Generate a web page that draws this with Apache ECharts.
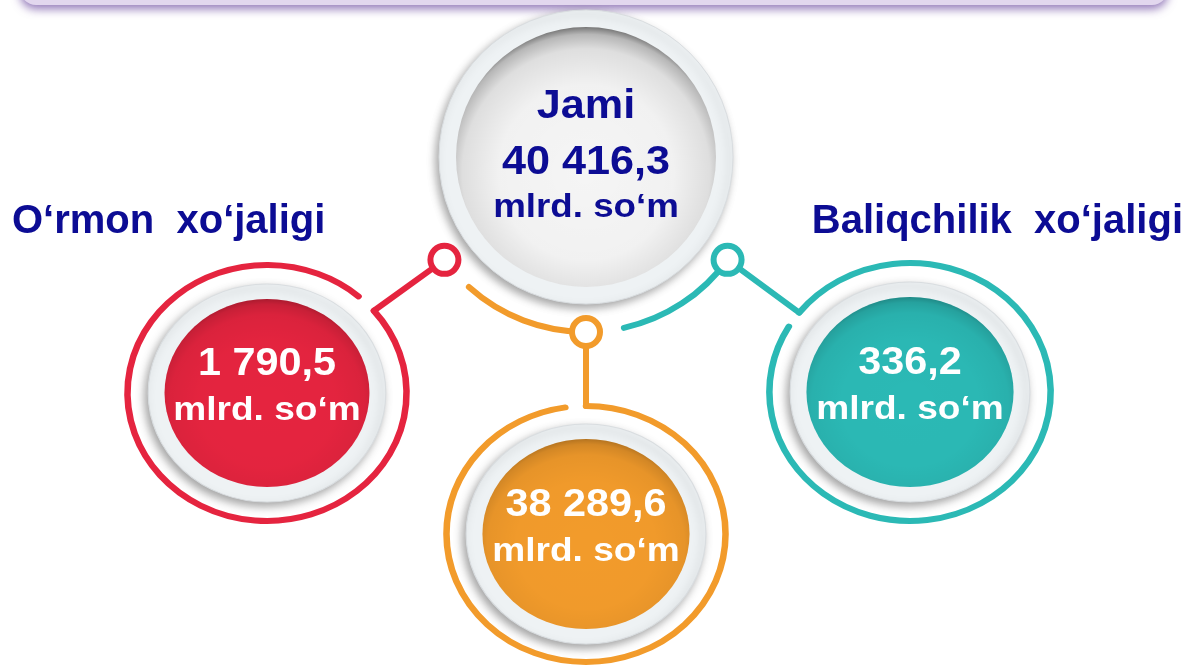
<!DOCTYPE html>
<html>
<head>
<meta charset="utf-8">
<title>Jami 40 416,3 mlrd. so‘m</title>
<script src="https://cdn.jsdelivr.net/npm/echarts@6/dist/echarts.min.js"></script>
<style>
  html, body { margin: 0; padding: 0; background: #fff; }
  #chart { width: 1189px; height: 666px; }
</style>
</head>
<body>
<div id="chart"></div>
<script>
// qiymatlar
const categories = ['Jami', 'O‘rmon  xo‘jaligi', '', 'Baliqchilik  xo‘jaligi'];
const values = [40416.3, 1790.5, 38289.6, 336.2];
const unit = 'mlrd. so‘m';

// joylashuv (yashirin o'qlar 0..1189 / 0..666 bo'yicha)
const layout = [
  { x: 586, y: 157, r: 130, bezel: 17 },
  { x: 267, y: 393, color: '#e5243f', ring: 128, r: 94, link: 144, joint: -40, gapEnd: -49,
    label: { x: 12, y: 222, align: 'left' } },
  { x: 586, y: 534, color: '#f29b2b', ring: 128, r: 95, link: 90, joint: -90, gapEnd: -98.5, arc: [90, 132] },
  { x: 910, y: 392, color: '#2bb9b5', ring: 129, r: 95, link: 36, joint: 218, gapEnd: 210.5, arc: [36, 77.5],
    label: { x: 1183, y: 222, align: 'right' } }
];

const navy = '#0c0c94';
const deg = Math.PI / 180;
const SX = 1.09; // kichik doiralar biroz ellips
const LINK_R = 175;
const LW = 6;

const font = (size) => 'bold ' + size + 'px "Liberation Sans", Arial, sans-serif';

function fmt(v) {
  const parts = v.toFixed(1).split('.');
  return parts[0].replace(/\B(?=(\d{3})+(?!\d))/g, ' ') + ',' + parts[1];
}

// ichki soya (tepada to'qroq)
function shade(k) {
  return new echarts.graphic.RadialGradient(0.5, 0.56, 0.56, [
    { offset: 0, color: 'rgba(0,0,0,0)' },
    { offset: 0.6, color: 'rgba(0,0,0,' + (0.01 * k) + ')' },
    { offset: 0.85, color: 'rgba(0,0,0,' + (0.06 * k) + ')' },
    { offset: 0.95, color: 'rgba(0,0,0,' + (0.16 * k) + ')' },
    { offset: 1, color: 'rgba(0,0,0,' + (0.32 * k) + ')' }
  ]);
}

function txt(text, y, size, fill) {
  return {
    type: 'text', x: 0, y: y,
    style: { text: text, font: font(size), fill: fill, align: 'center', verticalAlign: 'middle' }
  };
}

const bezelStyle = {
  fill: '#eef2f4', stroke: '#d9dde0', lineWidth: 1,
  shadowBlur: 8, shadowOffsetX: -3, shadowOffsetY: 4, shadowColor: 'rgba(0,0,0,0.35)'
};

function renderItem(params, api) {
  const i = api.value(3);
  const L = layout[i];
  const c = api.coord([api.value(0), api.value(1)]);
  const val = fmt(api.value(2));

  if (i === 0) {
    return {
      type: 'group', x: c[0], y: c[1],
      children: [
        { type: 'circle', shape: { cx: 0, cy: 0, r: L.r + L.bezel }, style: bezelStyle },
        { type: 'circle', shape: { cx: 0, cy: 0, r: L.r }, style: { fill: '#f5f5f5' } },
        { type: 'circle', shape: { cx: 0, cy: 0, r: L.r }, style: { fill: shade(1.6) } },
        {
          type: 'group', scaleX: 1.08,
          children: [
            txt(categories[i], -50, 40, navy),
            txt(val, 6, 40, navy),
            txt(unit, 51, 34, navy)
          ]
        }
      ]
    };
  }

  const hub = api.coord([layout[0].x, layout[0].y]);
  const lx = hub[0] + LINK_R * Math.cos(L.link * deg);
  const ly = hub[1] + LINK_R * Math.sin(L.link * deg);
  const jx = c[0] + SX * L.ring * Math.cos(L.joint * deg);
  const jy = c[1] + L.ring * Math.sin(L.joint * deg);
  const line = { stroke: L.color, lineWidth: LW, fill: 'none', lineCap: 'round' };

  const children = [
    { type: 'line', shape: { x1: jx, y1: jy, x2: lx, y2: ly }, style: line },
    {
      type: 'group', x: c[0], y: c[1], scaleX: SX,
      children: [
        {
          type: 'arc',
          shape: { cx: 0, cy: 0, r: L.ring, startAngle: L.joint * deg, endAngle: (L.gapEnd + 360) * deg, clockwise: true },
          style: line
        },
        { type: 'circle', shape: { cx: 0, cy: 0, r: L.r + 15 }, style: bezelStyle },
        { type: 'circle', shape: { cx: 0, cy: 0, r: L.r }, style: { fill: L.color } },
        { type: 'circle', shape: { cx: 0, cy: 0, r: L.r }, style: { fill: shade(0.8) } },
        txt(val, -28, 38, '#fff'),
        txt(unit, 18, 34, '#fff')
      ]
    }
  ];
  if (L.arc) {
    children.push({
      type: 'arc',
      shape: { cx: hub[0], cy: hub[1], r: LINK_R, startAngle: L.arc[0] * deg, endAngle: L.arc[1] * deg, clockwise: true },
      style: line
    });
  }
  children.push({ type: 'circle', shape: { cx: lx, cy: ly, r: 14 }, style: { fill: '#fff', stroke: L.color, lineWidth: LW } });
  if (L.label) {
    children.push({
      type: 'text', x: L.label.x, y: L.label.y,
      style: { text: categories[i], font: font(40), fill: navy, align: L.label.align, verticalAlign: 'middle' }
    });
  }
  return { type: 'group', children: children };
}

const chart = echarts.init(document.getElementById('chart'));

const options = {
  animation: false,
  backgroundColor: '#fff',
  grid: { left: 0, right: 0, top: 0, bottom: 0 },
  xAxis: { type: 'value', min: 0, max: 1189, show: false },
  yAxis: { type: 'value', min: 0, max: 666, inverse: true, show: false },
  graphic: [
    {
      type: 'rect',
      shape: { x: 20, y: -40, width: 1148, height: 45, r: 16 },
      style: { fill: '#e2d7ee', shadowBlur: 10, shadowOffsetY: 4, shadowColor: 'rgba(110,75,160,0.75)' }
    }
  ],
  series: [
    {
      type: 'custom',
      coordinateSystem: 'cartesian2d',
      clip: false,
      silent: true,
      renderItem: renderItem,
      data: values.map((v, i) => [layout[i].x, layout[i].y, v, i])
    }
  ]
};

chart.setOption(options);
</script>
</body>
</html>
